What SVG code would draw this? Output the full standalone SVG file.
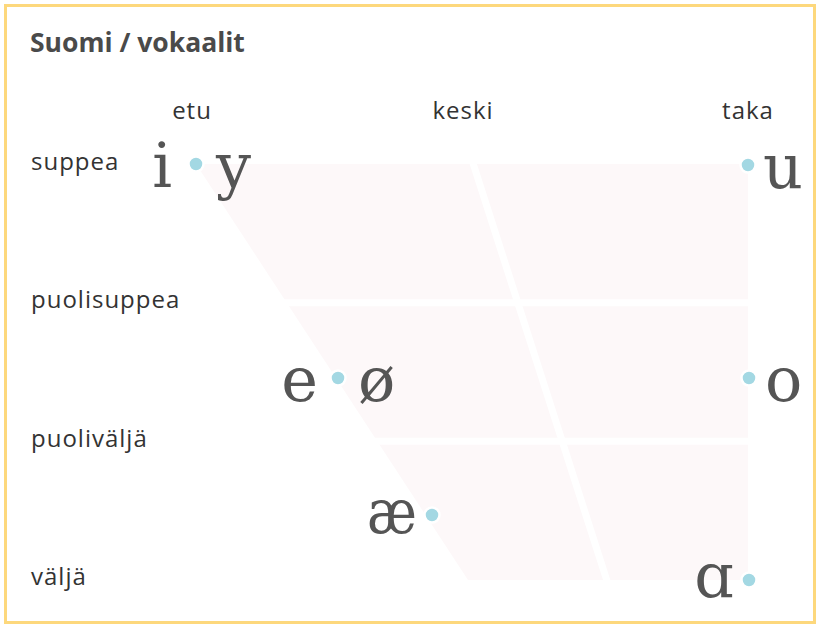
<svg xmlns="http://www.w3.org/2000/svg" width="817" height="626" viewBox="0 0 817 626">
<style>
.title{font-family:"Open Sans","Noto Sans",sans-serif;font-weight:bold;font-size:26.5px;fill:#4a4a4a}
.lbl{font-family:"Open Sans","Noto Sans",sans-serif;font-size:24px;letter-spacing:1px;fill:#333}
.v{font-family:"DejaVu Serif","Liberation Serif",serif;font-size:62px;fill:#555}
.dot{fill:#a3d8e3;stroke:#fff;stroke-width:2.5}
.div{stroke:#fff;stroke-width:7;fill:none}
</style>
<rect x="5.5" y="5.5" width="809" height="617" fill="#fff" stroke="#fdd87c" stroke-width="3"/>
<text class="title" x="30" y="52">Suomi / vokaalit</text>
<g id="labels">
<text class="lbl" x="192" y="119" text-anchor="middle">etu</text>
<text class="lbl" x="463" y="119" text-anchor="middle">keski</text>
<text class="lbl" x="748" y="119" text-anchor="middle">taka</text>
<text class="lbl" x="31" y="170">suppea</text>
<text class="lbl" x="31" y="308">puolisuppea</text>
<text class="lbl" x="31" y="447">puoliväljä</text>
<text class="lbl" x="31" y="585">väljä</text>
</g>
<g id="chart">
<polygon points="196,164 748,164 748,580 468,580" fill="#fdf8f9"/>
<g id="connectors">
<line class="div" x1="200" y1="302.7" x2="760" y2="302.7"/>
<line class="div" x1="200" y1="441.3" x2="760" y2="441.3"/>
<line class="div" x1="472" y1="160" x2="608" y2="584"/>
</g>
</g>
<g id="v-i"><text class="v" x="172" y="187" text-anchor="end">i</text></g>
<g id="v-y"><text class="v" x="216" y="187">y</text></g>
<g id="dot-iy"><circle class="dot" cx="196" cy="164" r="7.5"/></g>
<g id="v-u"><circle class="dot" cx="748" cy="165" r="7.5"/><text class="v" x="763" y="188">u</text></g>
<g id="v-e"><text class="v" x="318" y="401" text-anchor="end">e</text></g>
<g id="v-oe"><text class="v" x="358" y="401">ø</text></g>
<g id="dot-eo"><circle class="dot" cx="338" cy="378" r="7.5"/></g>
<g id="v-o"><circle class="dot" cx="749" cy="378" r="7.5"/><text class="v" x="765" y="401">o</text></g>
<g id="v-ae"><circle class="dot" cx="432" cy="515" r="7.5"/><text class="v" x="417" y="533" text-anchor="end" textLength="50" lengthAdjust="spacingAndGlyphs">æ</text></g>
<g id="v-a"><circle class="dot" cx="749" cy="580" r="7.5"/><text class="v" x="734" y="597" text-anchor="end">ɑ</text></g>
</svg>
